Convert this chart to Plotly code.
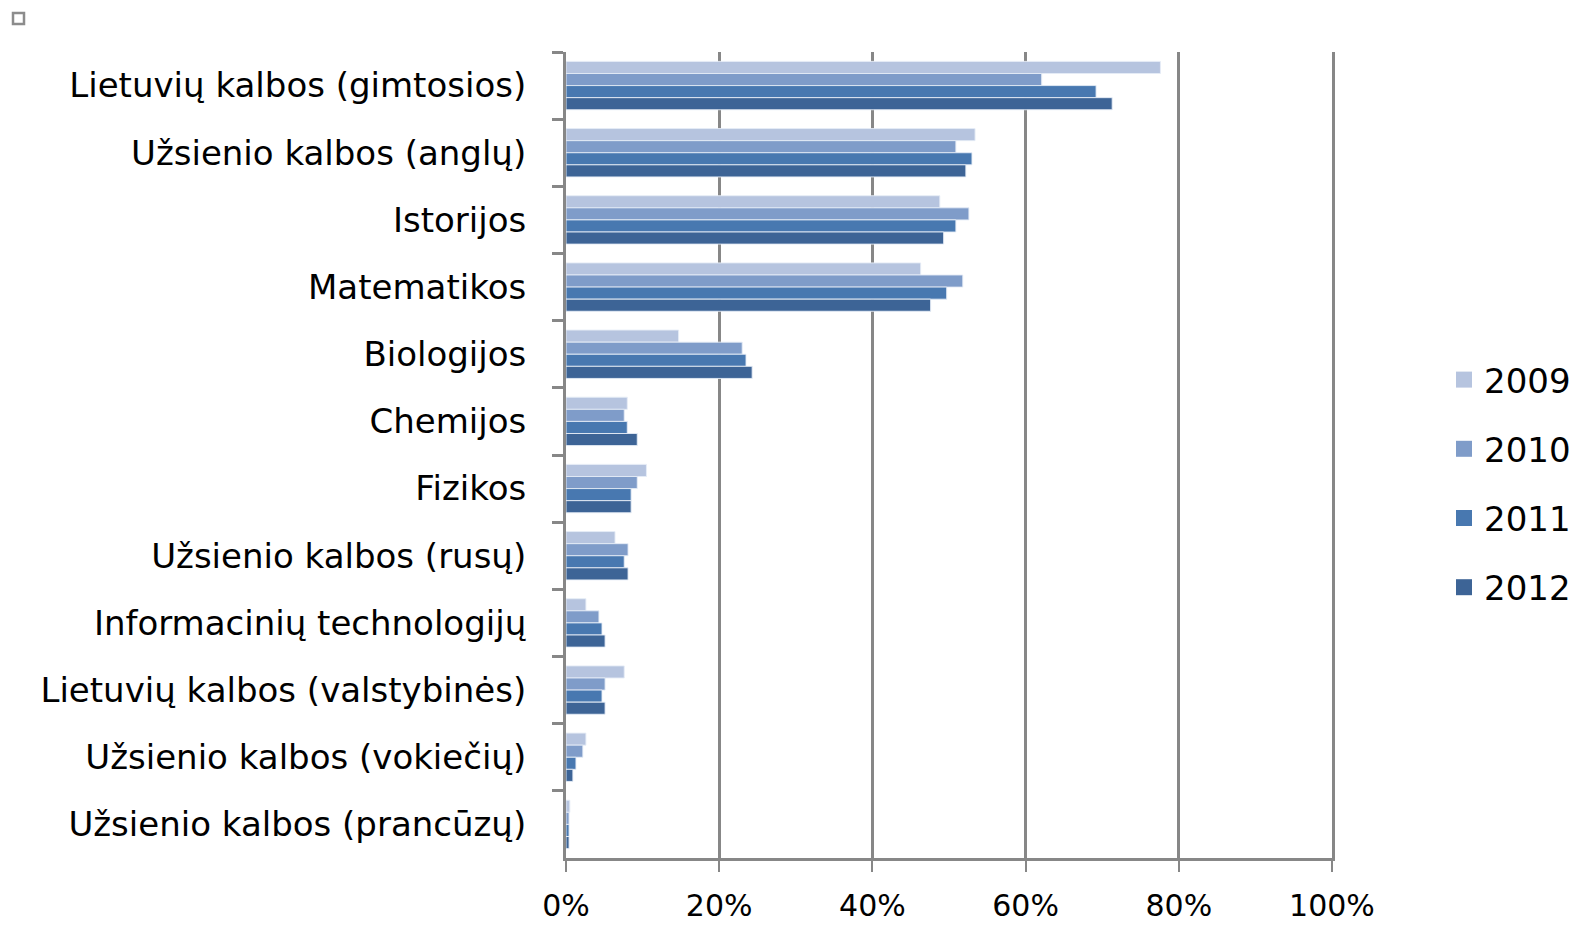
import plotly.graph_objects as go

categories = [
    "Lietuvių kalbos (gimtosios)",
    "Užsienio kalbos (anglų)",
    "Istorijos",
    "Matematikos",
    "Biologijos",
    "Chemijos",
    "Fizikos",
    "Užsienio kalbos (rusų)",
    "Informacinių technologijų",
    "Lietuvių kalbos (valstybinės)",
    "Užsienio kalbos (vokiečių)",
    "Užsienio kalbos (prancūzų)",
]
years = ["2009", "2010", "2011", "2012"]
v2009 = [77.6, 53.4, 48.8, 46.3, 14.7, 8.0, 10.5, 6.4, 2.6, 7.6, 2.6, 0.5]
v2010 = [62.1, 50.9, 52.6, 51.8, 23.0, 7.6, 9.3, 8.1, 4.3, 5.1, 2.2, 0.4]
v2011 = [69.2, 53.0, 50.9, 49.7, 23.5, 8.0, 8.5, 7.6, 4.7, 4.7, 1.3, 0.4]
v2012 = [71.3, 52.2, 49.3, 47.6, 24.3, 9.3, 8.5, 8.1, 5.1, 5.1, 0.9, 0.4]
series = [v2009, v2010, v2011, v2012]
colors = ["#B6C4DF", "#7F9CC9", "#4878B0", "#3D6496"]
x_ticks = [0, 20, 40, 60, 80, 100]
x_tick_labels = ["0%", "20%", "40%", "60%", "80%", "100%"]

FONT = "DejaVu Sans"
# page body has an 8px margin, so the figure is drawn 8px in from the corner
W, H = 1570, 918
L, T = 558, 44
pw, ph = 766, 806
R, B = W - L - pw, H - T - ph

fig = go.Figure()
for yr, vals, col in zip(years, series, colors):
    fig.add_trace(go.Bar(
        y=categories, x=vals, orientation="h", name=yr,
        marker=dict(color=col, line=dict(color="rgba(230,236,246,0.9)", width=1)),
        showlegend=False, legendgroup=yr,
    ))
for yr, col in zip(years, colors):
    fig.add_trace(go.Scatter(
        x=[None], y=[None], mode="markers", name=yr, legendgroup=yr,
        marker=dict(symbol="square", size=16, color=col),
        showlegend=True,
    ))

gray = "#878787"
fig.update_layout(
    width=W, height=H,
    margin=dict(l=L, r=R, t=T, b=B, autoexpand=False),
    plot_bgcolor="white", paper_bgcolor="white",
    barmode="group", bargap=0.28, bargroupgap=0,
    font=dict(family=FONT, size=30, color="black"),
    xaxis=dict(
        range=[0, 100], tickvals=x_ticks, ticktext=x_tick_labels,
        showgrid=True, gridcolor=gray, gridwidth=3,
        showline=True, linecolor=gray, linewidth=3,
        ticks="outside", ticklen=11, tickwidth=2, tickcolor=gray,
        ticklabelstandoff=8, zeroline=False,
        tickfont=dict(family=FONT, size=30),
    ),
    yaxis=dict(
        type="category", autorange="reversed",
        tickson="boundaries", ticks="outside", ticklen=11, tickwidth=3, tickcolor=gray,
        showline=True, mirror=True, linecolor=gray, linewidth=3, showgrid=False,
        ticklabelstandoff=30,
        tickfont=dict(family=FONT, size=34),
    ),
    legend=dict(
        x=(1436 - L) / pw, xanchor="left",
        y=(H - B - 343) / ph, yanchor="top",
        traceorder="grouped", tracegroupgap=22,
        font=dict(family=FONT, size=34),
        bgcolor="rgba(0,0,0,0)",
    ),
    shapes=[dict(
        type="rect", xref="paper", yref="paper",
        x0=(5 - L) / pw, x1=(16 - L) / pw,
        y0=(H - B - 16) / ph, y1=(H - B - 5) / ph,
        line=dict(color="#8C8C8C", width=2.5), fillcolor="white",
    )],
)

fig.write_html("out.html")
